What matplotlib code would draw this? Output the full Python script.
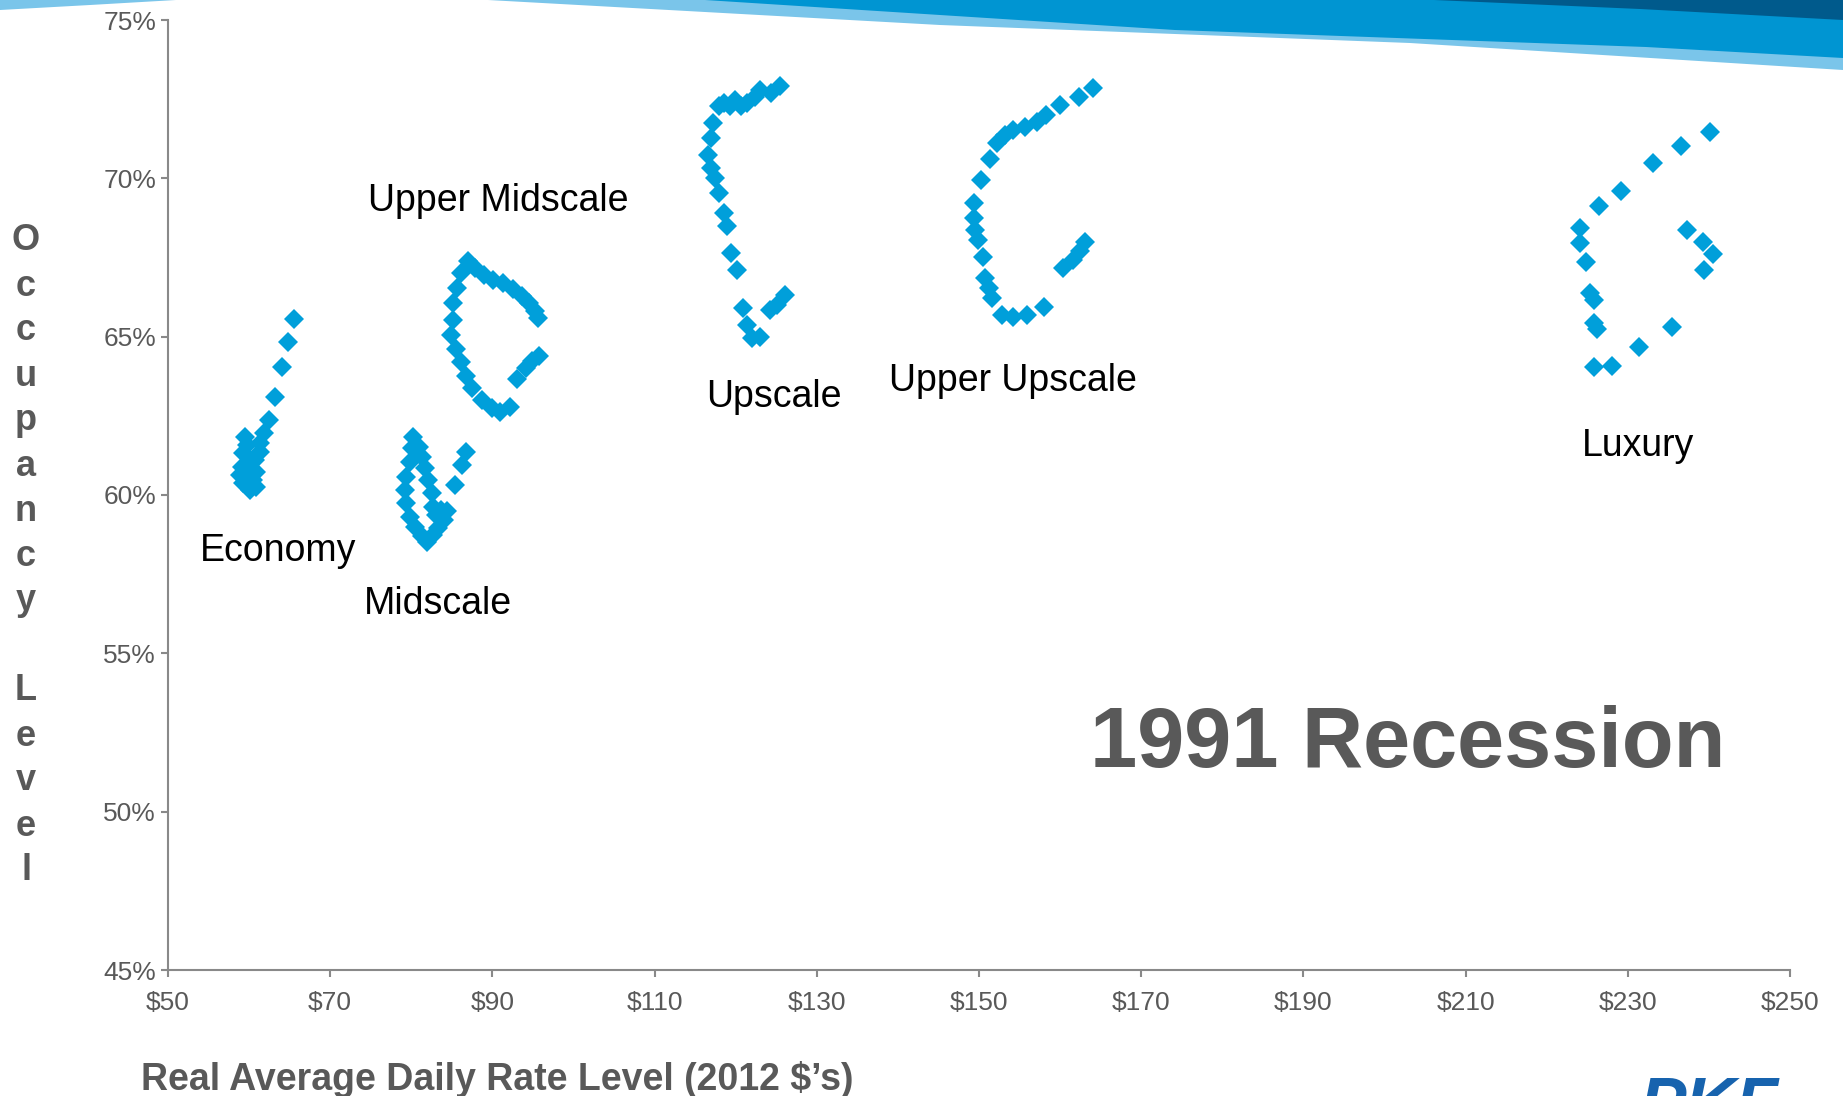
import matplotlib.pyplot as plt
from matplotlib.patches import Polygon

plt.rcParams['font.family'] = ['Liberation Sans', 'DejaVu Sans']

# average daily rate (x, 2012 $) and occupancy (y, %) per chain scale
economy_x = [65.5, 64.8, 64.1, 63.2, 62.4, 61.8, 61.3, 61.3, 59.5, 59.7, 59.3, 60.7, 59.1,
             60.9, 58.9, 60.5, 59.3, 60.1, 60.9, 59.7, 60.1]
economy_y = [65.55, 64.84, 64.03, 63.1, 62.37, 61.95, 61.63, 61.37, 61.84, 61.58, 61.32, 61.1, 60.9,
             60.74, 60.63, 60.47, 60.37, 60.16, 60.26, 60.69, 61.0]

midscale_x = [86.8, 86.2, 85.4, 84.4, 84.0, 83.3, 82.7, 81.9, 81.3, 80.5, 79.8, 79.4, 79.2,
              79.4, 79.8, 80.05, 80.25, 80.9, 81.3, 81.7, 82.1, 82.5, 82.7, 83.1, 83.7]
midscale_y = [61.37, 60.95, 60.32, 59.5, 59.2, 58.95, 58.74, 58.53, 58.7, 59.0, 59.3, 59.74, 60.16,
              60.58, 61.05, 61.5, 61.84, 61.53, 61.2, 60.84, 60.47, 60.05, 59.63, 59.37, 59.53]

upper_mid_x = [95.8, 94.9, 94.1, 93.0, 92.2, 90.9, 89.9, 88.7, 87.5, 86.8, 86.1, 85.5, 84.9,
               85.1, 85.2, 85.65, 86.1, 87.0, 87.8, 89.0, 90.1, 91.3, 92.5, 93.6, 94.5, 95.2, 95.65]
upper_mid_y = [64.38, 64.23, 64.0, 63.67, 62.78, 62.63, 62.75, 63.0, 63.38, 63.75, 64.2, 64.6, 65.05,
               65.53, 66.05, 66.53, 67.0, 67.39, 67.16, 66.94, 66.79, 66.68, 66.49, 66.27, 66.05, 65.82, 65.6]

upscale_x = [125.5, 124.4, 123.0, 122.4, 121.4, 120.7, 119.9, 119.3, 118.5, 117.9, 117.2, 117.0,
             116.6, 116.9, 117.5, 118.0, 118.5, 118.9, 119.4, 120.1, 120.9, 121.4, 122.0, 123.0,
             124.2, 125.1, 126.1]
upscale_y = [72.92, 72.69, 72.79, 72.58, 72.37, 72.27, 72.48, 72.27, 72.37, 72.27, 71.74, 71.27,
             70.74, 70.32, 70.0, 69.53, 68.9, 68.48, 67.63, 67.11, 65.9, 65.37, 64.95, 65.0,
             65.85, 66.0, 66.32]

upper_up_x = [164.1, 162.3, 160.0, 158.3, 157.1, 155.7, 154.2, 153.2, 152.2, 151.3, 150.3, 149.4,
              149.4, 149.5, 149.9, 150.5, 150.7, 151.2, 151.6, 152.8, 154.2, 155.9, 158.0, 160.4,
              161.6, 162.5, 163.1]
upper_up_y = [72.85, 72.56, 72.32, 72.0, 71.79, 71.63, 71.53, 71.37, 71.11, 70.6, 69.95, 69.21,
              68.74, 68.37, 68.06, 67.53, 66.85, 66.53, 66.21, 65.69, 65.63, 65.69, 65.95, 67.16,
              67.42, 67.69, 68.0]

luxury_x = [240.1, 236.5, 233.1, 229.2, 226.5, 224.1, 224.1, 224.8, 225.3, 225.8, 225.8, 226.2,
            225.8, 228.1, 231.4, 235.5, 239.4, 240.5, 239.3, 237.3]
luxury_y = [71.47, 71.03, 70.47, 69.6, 69.12, 68.44, 67.96, 67.36, 66.39, 66.15, 65.42, 65.23,
            64.05, 64.08, 64.66, 65.29, 67.12, 67.61, 68.0, 68.37]

labels = ['Economy', 'Midscale', 'Upper Midscale', 'Upscale', 'Upper Upscale', 'Luxury']
label_x = [63.6, 83.3, 90.7, 124.7, 154.2, 231.2]
label_y = [58.24, 56.55, 69.28, 63.08, 63.6, 61.55]

xticks = [50, 70, 90, 110, 130, 150, 170, 190, 210, 230, 250]
yticks = [45, 50, 55, 60, 65, 70, 75]

W, H = 1843, 1096
fig = plt.figure(figsize=(W / 100, H / 100), dpi=100)
ax = fig.add_axes([168 / W, 1 - 970 / H, (1790 - 168) / W, (970 - 20) / H])

blue = '#009FDA'
gray = '#595959'
for xs, ys in [(economy_x, economy_y), (midscale_x, midscale_y), (upper_mid_x, upper_mid_y),
               (upscale_x, upscale_y), (upper_up_x, upper_up_y), (luxury_x, luxury_y)]:
    ax.plot(xs, ys, linestyle='none', marker='D', markersize=10, color=blue, markeredgewidth=0)

for t, lx, ly in zip(labels, label_x, label_y):
    ax.text(lx, ly, t, fontsize=27, ha='center', va='center', color='black')

ax.text(202.8, 52.1, '1991 Recession', fontsize=61, fontweight='bold', ha='center',
        va='center', color=gray)

ax.set_xlim(50, 250)
ax.set_ylim(45, 75)
ax.set_xticks(xticks)
ax.set_xticklabels(['$' + str(v) for v in xticks])
ax.set_yticks(yticks)
ax.set_yticklabels([str(v) + '%' for v in yticks])
ax.tick_params(colors='#898989', labelcolor=gray, labelsize=19, length=5, width=1.5)
ax.tick_params(axis='x', pad=10)
for s in ['top', 'right']:
    ax.spines[s].set_visible(False)
for s in ['left', 'bottom']:
    ax.spines[s].set_color('#898989')
    ax.spines[s].set_linewidth(1.5)

# vertical stacked y label
for i, ch in enumerate('Occupancy Level'):
    fig.text(26 / W, 1 - (241 + 45 * i) / H, ch, fontsize=26, fontweight='bold',
             color=gray, ha='center', va='center')

fig.text(141 / W, 1 - 1079 / H, "Real Average Daily Rate Level (2012 $\u2019s)", fontsize=27,
         fontweight='bold', color=gray, ha='left', va='center')

# slide banner at the top
def band(pts, color):
    p = Polygon([(x / W, 1 - y / H) for x, y in pts], closed=True, transform=fig.transFigure,
                facecolor=color, edgecolor='none')
    fig.add_artist(p)

band([(0, 0), (176, 0), (90, 5), (0, 10)], '#7AC5EA')
band([(488, 0), (W, 0), (W, 70), (1410, 43), (940, 25)], '#7AC5EA')
band([(705, 0), (W, 0), (W, 58), (1646, 47), (1175, 30)], '#0095D2')
band([(1434, 0), (W, 0), (W, 20), (1640, 9)], '#005A8C')

fig.text(1640 / W, 1 - 1075 / H, 'PKF', fontsize=50, fontweight='bold', style='italic',
         color='#1763AE', ha='left', va='top')

fig.savefig('out.png', dpi=100)
